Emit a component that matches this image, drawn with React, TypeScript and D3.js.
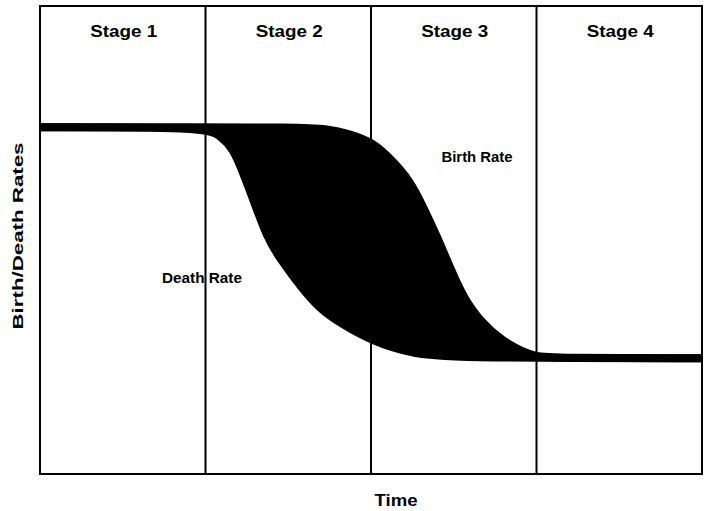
import React, { useEffect, useRef } from "react";
import * as d3 from "d3";

// stages along the time axis (time runs 0..100)
const stageNames = ["Stage 1", "Stage 2", "Stage 3", "Stage 4"];
const stageBounds = [0, 25, 50, 75, 100];

// birth rate curve (time, rate)
const birthTime = [0, 25, 37.8, 43.8, 46.8, 50.2, 53.3, 55.9, 57.9, 60.0, 61.9, 63.9, 66.5, 69.9, 73.0, 74.8, 77.0, 100];
const birthRate = [45.2, 45.2, 45.2, 45.0, 44.3, 43.3, 40.8, 38.2, 34.8, 30.9, 27.0, 23.1, 19.9, 17.3, 15.9, 15.4, 15.1, 15.1];

// death rate curve (time, rate)
const deathTime = [0, 25, 27.2, 29.2, 30.7, 32.2, 34.3, 36.3, 39.3, 42.3, 45.3, 50.2, 56.3, 63.9, 100];
const deathRate = [45.2, 45.2, 44.1, 42.4, 39.2, 35.8, 30.8, 28.0, 24.5, 21.5, 19.7, 17.3, 15.6, 15.1, 15.1];

const W = 709;
const H = 511;
const font = "'Liberation Sans', Arial, sans-serif";

export default function App() {
  const ref = useRef<SVGSVGElement>(null);

  useEffect(() => {
    const svg = d3.select(ref.current);
    svg.selectAll("*").remove();

    const left = 40, right = 702, top = 6, bottom = 474;

    const x = d3.scaleLinear().domain([0, 100]).range([left, right]);
    const y = d3.scaleLinear().domain([0, 61]).range([bottom, top]);

    const birth = birthTime.map((t, i) => [t, birthRate[i]] as [number, number]);
    const death = deathTime.map((t, i) => [t, deathRate[i]] as [number, number]);

    const line = d3.line<[number, number]>()
      .x(d => x(d[0]))
      .y(d => y(d[1]))
      .curve(d3.curveBasis);

    // filled gap between birth and death
    const fillPath = line(birth)! + "L" + line(death.slice().reverse())!.slice(1) + "Z";
    svg.append("path")
      .attr("d", fillPath)
      .attr("fill", "#000");

    [birth, death].forEach(pts => {
      svg.append("path")
        .attr("d", line(pts))
        .attr("fill", "none")
        .attr("stroke", "#000")
        .attr("stroke-width", 8);
    });

    // stage dividers
    stageBounds.slice(1, -1).forEach(b => {
      svg.append("line")
        .attr("x1", x(b)).attr("x2", x(b))
        .attr("y1", top).attr("y2", bottom)
        .attr("stroke", "#000")
        .attr("stroke-width", 2);
    });

    svg.append("rect")
      .attr("x", left).attr("y", top)
      .attr("width", right - left).attr("height", bottom - top)
      .attr("fill", "none")
      .attr("stroke", "#000")
      .attr("stroke-width", 2);

    // stage titles
    stageNames.forEach((s, i) => {
      svg.append("text")
        .attr("x", (x(stageBounds[i]) + x(stageBounds[i + 1])) / 2 + 1)
        .attr("y", 37)
        .attr("text-anchor", "middle")
        .attr("font-family", font)
        .attr("font-weight", "bold")
        .attr("font-size", 17)
        .attr("textLength", 67)
        .attr("lengthAdjust", "spacingAndGlyphs")
        .text(s);
    });

    const label = (txt: string, cx: number, cy: number, size: number, len: number) =>
      svg.append("text")
        .attr("x", cx).attr("y", cy)
        .attr("text-anchor", "middle")
        .attr("font-family", font)
        .attr("font-weight", "bold")
        .attr("font-size", size)
        .attr("textLength", len)
        .attr("lengthAdjust", "spacingAndGlyphs")
        .text(txt);

    label("Birth Rate", 477, 162, 14, 71);
    label("Death Rate", 202, 283, 14, 80);
    label("Time", 396, 506, 17, 43);
    label("Birth/Death Rates", 0, 0, 15, 187)
      .attr("transform", "translate(23,236) rotate(-90)");
  }, []);

  return (
    <svg
      ref={ref}
      width={W}
      height={H}
      style={{ position: "absolute", left: 0, top: 0, background: "#fff" }}
    />
  );
}
